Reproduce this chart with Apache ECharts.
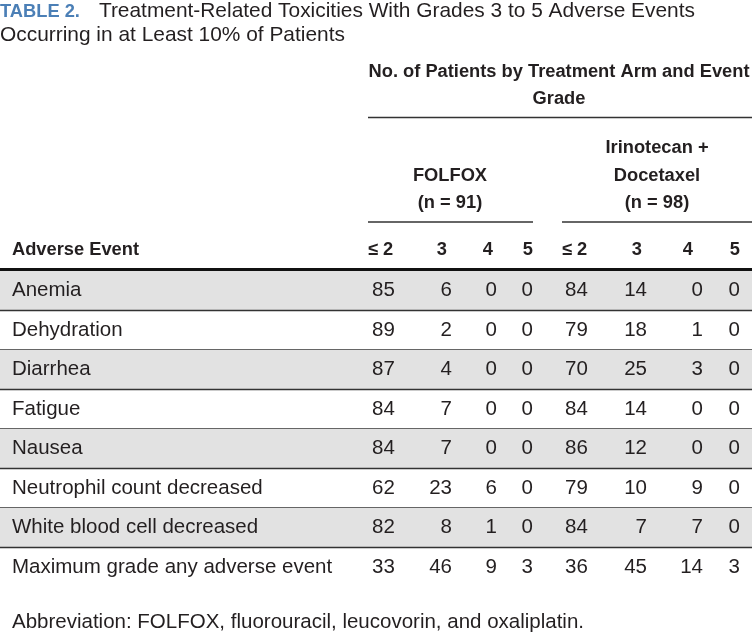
<!DOCTYPE html>
<html>
<head>
<meta charset="utf-8">
<script src="https://cdn.jsdelivr.net/npm/echarts@6/dist/echarts.min.js"></script>
<style>html,body{margin:0;padding:0;background:#fff;}#c{width:752px;height:633px;}</style>
</head>
<body>
<div id="c"></div>
<script>
// ---- data ----
const titleLabel = 'TABLE 2.';
const titleText = 'Treatment-Related Toxicities With Grades 3 to 5 Adverse Events';
const titleText2 = 'Occurring in at Least 10% of Patients';
const spanHeader = 'No. of Patients by Treatment Arm and Event\nGrade';
const armLabels = ['FOLFOX\n(n = 91)', 'Irinotecan +\nDocetaxel\n(n = 98)'];
const rowHeader = 'Adverse Event';
const rowLabels = ['Anemia', 'Dehydration', 'Diarrhea', 'Fatigue', 'Nausea',
  'Neutrophil count decreased', 'White blood cell decreased', 'Maximum grade any adverse event'];
const gradeLabels = ['≤ 2', '3', '4', '5', '≤ 2', '3', '4', '5'];
const folfox = [[85, 6, 0, 0], [89, 2, 0, 0], [87, 4, 0, 0], [84, 7, 0, 0], [84, 7, 0, 0], [62, 23, 6, 0], [82, 8, 1, 0], [33, 46, 9, 3]];
const irinoDoce = [[84, 14, 0, 0], [79, 18, 1, 0], [70, 25, 3, 0], [84, 14, 0, 0], [86, 12, 0, 0], [79, 10, 9, 0], [84, 7, 7, 0], [36, 45, 14, 3]];
const footnote = 'Abbreviation: FOLFOX, fluorouracil, leucovorin, and oxaliplatin.';

// ---- style ----
const FONT = '"Liberation Sans", Arial, sans-serif';
const TXT = '#231f20';
const FS = 20.5;
const TFS = 20.9;
const BFS = 18.3;
const colAlign = ['left', 'right', 'right', 'right', 'left', 'right', 'right', 'right'];
const colShift = [-20, 12, 9, -3, -19, 15, 23, 12];
const hdrShift = [-24, 7, 5, -3, -22, 10, 13, 12];

const cells = [];
rowLabels.forEach((r, ri) => {
  folfox[ri].forEach((v, ci) => cells.push([ci, ri, v]));
  irinoDoce[ri].forEach((v, ci) => cells.push([ci + 4, ri, v]));
});
const hdrCells = gradeLabels.map((g, i) => [i, 0, g]);

const chart = echarts.init(document.getElementById('c'), null, {renderer: 'canvas'});
const option = {
  animation: false,
  backgroundColor: '#fff',
  grid: [
    {left: 0, right: 0, top: 271, height: 316},
    {left: 368, right: 0, top: 271, height: 316}
  ],
  xAxis: [
    {gridIndex: 0, type: 'value', min: 0, max: 1, show: false},
    {gridIndex: 1, type: 'category', data: gradeLabels.map((g, i) => i), show: false}
  ],
  yAxis: [
    {gridIndex: 0, type: 'category', data: rowLabels, inverse: true, z: 10,
      axisLine: {show: false}, axisTick: {show: false}, splitLine: {show: false},
      axisLabel: {inside: true, margin: 12, fontFamily: FONT, fontSize: FS, color: TXT}},
    {gridIndex: 1, type: 'category', data: rowLabels, inverse: true, show: false}
  ],
  graphic: [
    {type: 'text', x: 0, y: 11, z: 20, style: {
      text: '{b|' + titleLabel + '}' + titleText, font: TFS + 'px ' + FONT, fill: TXT,
      rich: {b: {fontFamily: FONT, fontWeight: 'bold', fontSize: BFS, fill: '#4b7fb6', color: '#4b7fb6', padding: [2, 19, 0, 0]}},
      verticalAlign: 'middle'}},
    {type: 'text', x: 0, y: 35, z: 20, style: {text: titleText2, font: TFS + 'px ' + FONT, fill: TXT, verticalAlign: 'middle'}},
    {type: 'text', x: 559, y: 72 - 13.25, z: 20, style: {text: spanHeader, fontFamily: FONT, fontWeight: 'bold', fontSize: BFS, lineHeight: 26.5, fill: TXT, align: 'center', verticalAlign: 'top'}},
    {type: 'line', z: 20, shape: {x1: 368, y1: 117.5, x2: 752, y2: 117.5}, style: {stroke: '#333', lineWidth: 1.5}},
    {type: 'text', x: 450, y: 175.5 - 13.75, z: 20, style: {text: armLabels[0], fontFamily: FONT, fontWeight: 'bold', fontSize: BFS, lineHeight: 27.5, fill: TXT, align: 'center', verticalAlign: 'top'}},
    {type: 'text', x: 657, y: 148 - 13.75, z: 20, style: {text: armLabels[1], fontFamily: FONT, fontWeight: 'bold', fontSize: BFS, lineHeight: 27.5, fill: TXT, align: 'center', verticalAlign: 'top'}},
    {type: 'line', z: 20, shape: {x1: 368, y1: 222, x2: 533, y2: 222}, style: {stroke: '#333', lineWidth: 1.5}},
    {type: 'line', z: 20, shape: {x1: 562, y1: 222, x2: 752, y2: 222}, style: {stroke: '#333', lineWidth: 1.5}},
    {type: 'text', x: 12, y: 250, z: 20, style: {text: rowHeader, fontFamily: FONT, fontWeight: 'bold', fontSize: BFS, fill: TXT, verticalAlign: 'middle'}},
    {type: 'text', x: 12, y: 622, z: 20, style: {text: footnote, font: FS + 'px ' + FONT, fill: TXT, verticalAlign: 'middle'}}
  ],
  series: [
    {
      type: 'custom', xAxisIndex: 0, yAxisIndex: 0, z: 1, silent: true,
      data: rowLabels.map((r, i) => [0, i]),
      encode: {x: 0, y: 1},
      renderItem: function (params, api) {
        const i = api.value(1);
        const p0 = api.coord([0, i]);
        const p1 = api.coord([1, i]);
        const h = api.size([0, 1])[1];
        const top = p0[1] - h / 2, bot = p0[1] + h / 2;
        const ch = [];
        if (i % 2 === 0) ch.push({type: 'rect', shape: {x: p0[0], y: top, width: p1[0] - p0[0], height: h}, style: {fill: '#e2e2e2'}});
        if (i < rowLabels.length - 1) ch.push({type: 'line', shape: {x1: p0[0], y1: bot, x2: p1[0], y2: bot}, style: {stroke: '#333', lineWidth: 1.5}});
        if (i === 0) ch.push({type: 'line', shape: {x1: p0[0], y1: top - 1.5, x2: p1[0], y2: top - 1.5}, style: {stroke: '#111', lineWidth: 3}});
        return {type: 'group', children: ch};
      }
    },
    {
      type: 'custom', xAxisIndex: 1, yAxisIndex: 1, z: 5, silent: true,
      data: cells, encode: {x: 0, y: 1},
      renderItem: function (params, api) {
        const c = api.value(0), r = api.value(1);
        const p = api.coord([c, r]);
        return {type: 'text', x: p[0] + colShift[c], y: p[1], style: {
          text: String(cells[params.dataIndex][2]), fontFamily: FONT, fontSize: FS, fill: TXT,
          align: colAlign[c], verticalAlign: 'middle'}};
      }
    },
    {
      type: 'custom', xAxisIndex: 1, yAxisIndex: 1, z: 5, silent: true,
      data: hdrCells, encode: {x: 0, y: 1},
      renderItem: function (params, api) {
        const c = api.value(0);
        const p = api.coord([c, 0]);
        const h = api.size([0, 1])[1];
        return {type: 'text', x: p[0] + hdrShift[c], y: p[1] - h - 1, style: {
          text: hdrCells[params.dataIndex][2], fontFamily: FONT, fontWeight: 'bold', fontSize: BFS, fill: TXT,
          align: colAlign[c], verticalAlign: 'middle'}};
      }
    }
  ]
};
chart.setOption(option);
</script>
</body>
</html>
